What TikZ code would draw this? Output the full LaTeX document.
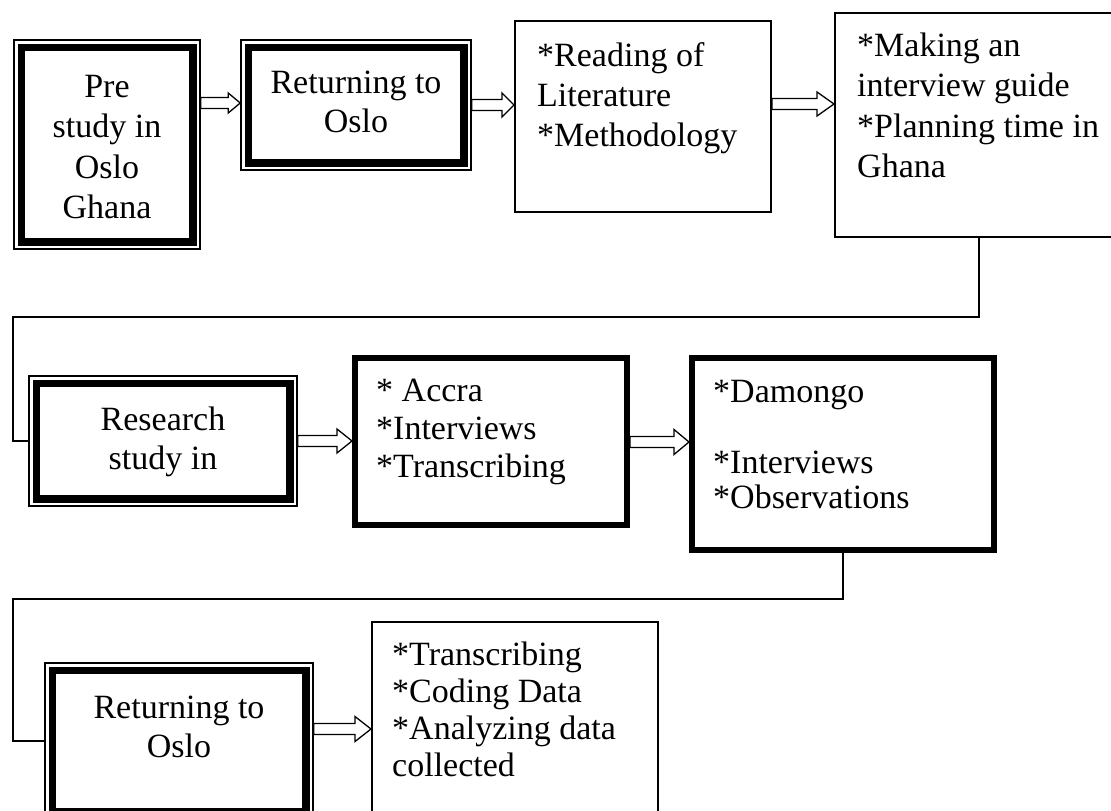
\documentclass[tikz,border=0pt]{standalone}
\usepackage{fontspec}
\setmainfont{Liberation Serif}
\usetikzlibrary{calc}
\newcommand\firstln{\rule{0pt}{25pt}}
\tikzset{
  x=1pt, y=1pt,
  every node/.style={inner sep=0pt},
  sbox/.style={draw, line width=2pt},
  tbox/.style={draw, line width=6pt},
  dbox/.style={draw, line width=1.5pt},
  innerline/.style={line width=7.5pt},
  conn/.style={line width=1.5pt},
  barrow/.style={draw, fill=white, line width=1.3pt, line join=miter},
  txt/.style={font=\fontsize{34}{#1}\selectfont},
  ltxt/.style={txt=#1, align=left, anchor=north west},
  ctxt/.style={txt=#1, align=center, anchor=north}
}
\newcommand\blockarrow[5]{%
  \draw[barrow] let \p1=(#1.east), \p2=(#2.west) in
    (\x1,{(-#3+5.5)*1pt}) -- ({\x2-#4*1pt},{(-#3+5.5)*1pt}) --
    ({\x2-#4*1pt},{(-#3+#5)*1pt}) -- (\x2,{-#3*1pt}) --
    ({\x2-#4*1pt},{(-#3-#5)*1pt}) -- ({\x2-#4*1pt},{(-#3-5.5)*1pt}) --
    (\x1,{(-#3-5.5)*1pt}) -- cycle;}
\begin{document}
\begin{tikzpicture}
\useasboundingbox (0,0) rectangle (1111,-811);
\clip (0,0) rectangle (1111,-811);
\fill[white] (0,0) rectangle (1111,-811);

% boxes
\node[dbox, minimum width=186pt, minimum height=209pt] (b1) at (107,-144.5) {};
\node[dbox, minimum width=230pt, minimum height=130pt] (b2) at (356,-105) {};
\node[sbox, minimum width=256pt, minimum height=191pt] (b3) at (643,-116.5) {};
\node[sbox, minimum width=288pt, minimum height=224pt] (b4) at (979,-125) {};
\node[dbox, minimum width=268pt, minimum height=130pt] (b5) at (163,-441) {};
\node[tbox, minimum width=272pt, minimum height=167pt] (b6) at (491,-441.5) {};
\node[tbox, minimum width=302pt, minimum height=192pt] (b7) at (843,-454) {};
\node[dbox, minimum width=268pt, minimum height=156pt] (b8) at (179,-741) {};
\node[sbox, minimum width=286pt, minimum height=218pt] (b9) at (515,-731) {};

\foreach \n in {b1,b2,b5,b8}
  \draw[innerline] ([shift={(8pt,-8pt)}]\n.north west) rectangle ([shift={(-8pt,8pt)}]\n.south east);

% texts
\node[ctxt=40.5] (t1) at (107,-72) {\firstln Pre\\study in\\Oslo\\Ghana};
\node[ctxt=39] (t2) at (356,-68) {\firstln Returning to\\Oslo};
\node[ltxt=40] (t3) at (537,-41) {\firstln *Reading of\\Literature\\*Methodology};
\node[ltxt=40.5] (t4) at (857,-31) {\firstln *Making an\\interview guide\\*Planning time in\\Ghana};
\node[ctxt=39] (t5) at (163,-405) {\firstln Research\\study in};
\node[ltxt=38] (t6) at (376,-376) {\firstln * Accra\\*Interviews\\*Transcribing};
\node[ltxt=35.5] (t7) at (713,-377) {\firstln *Damongo\\[35.5pt]*Interviews\\*Observations};
\node[ctxt=39] (t8) at (179,-693) {\firstln Returning to\\Oslo};
\node[ltxt=37] (t9) at (392,-640) {\firstln *Transcribing\\*Coding Data\\*Analyzing data\\collected};

% elbow connectors
\coordinate (cA) at (13,-317);
\coordinate (cB) at (13,-599);
\draw[conn] (b4.south) |- (cA) |- (b5.west);
\draw[conn] (b7.south) |- (cB) |- (b8.west);

% block arrows
\blockarrow{b1}{b2}{103}{12}{10}
\blockarrow{b2}{b3}{105}{12}{12}
\blockarrow{b3}{b4}{104}{17}{12}
\blockarrow{b5}{b6}{441}{15}{12}
\blockarrow{b6}{b7}{442}{15}{12.5}
\blockarrow{b8}{b9}{729}{16}{12.5}
\end{tikzpicture}
\end{document}
